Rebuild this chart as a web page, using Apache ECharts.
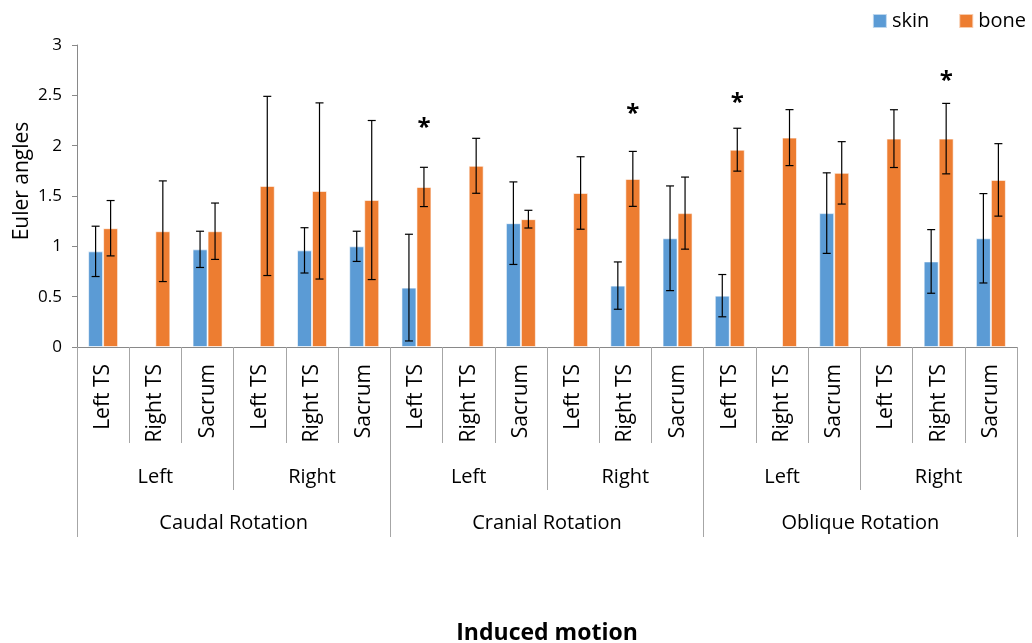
<!DOCTYPE html>
<html>
<head>
<meta charset="utf-8">
<script src="https://cdn.jsdelivr.net/npm/echarts@6/dist/echarts.min.js"></script>
<style>
  html, body { margin: 0; padding: 0; background: #fff; }
  #chart { width: 1032px; height: 643px; }
</style>
</head>
<body>
<div id="chart"></div>
<script>
// ---- data ----
const siteLabels = ['Left TS','Right TS','Sacrum','Left TS','Right TS','Sacrum',
                    'Left TS','Right TS','Sacrum','Left TS','Right TS','Sacrum',
                    'Left TS','Right TS','Sacrum','Left TS','Right TS','Sacrum'];
const sideLabels = ['Left','Right','Left','Right','Left','Right'];
const rotationLabels = ['Caudal Rotation','Cranial Rotation','Oblique Rotation'];
const yTicks = { min: 0, max: 3, interval: 0.5 };

const skinMean = [0.95, null, 0.97, null, 0.96, 1.00, 0.59, null, 1.23, null, 0.61, 1.08, 0.51, null, 1.33, null, 0.85, 1.08];
const skinSd   = [0.25, null, 0.18, null, 0.225, 0.15, 0.53, null, 0.41, null, 0.235, 0.52, 0.21, null, 0.40, null, 0.316, 0.444];
const boneMean = [1.18, 1.15, 1.15, 1.60, 1.55, 1.46, 1.59, 1.80, 1.27, 1.53, 1.67, 1.33, 1.96, 2.08, 1.73, 2.07, 2.07, 1.66];
const boneSd   = [0.275, 0.50, 0.28, 0.89, 0.875, 0.79, 0.195, 0.273, 0.088, 0.36, 0.273, 0.358, 0.213, 0.278, 0.31, 0.287, 0.35, 0.36];
const starLevel = [null, null, null, null, null, null, 2.2, null, null, null, 2.34, null, 2.45, null, null, null, 2.67, null];

// ---- chart ----
const FONT = '"Open Sans", "Noto Sans", sans-serif';
const BAR_W = 15;
const chart = echarts.init(document.getElementById('chart'), null, { renderer: 'canvas' });

function errData(mean, sd) {
  const out = [];
  mean.forEach((m, i) => { if (m != null && sd[i] != null) out.push([i, m, sd[i]]); });
  return out;
}
function errRender(dx) {
  return function (params, api) {
    const i = api.value(0), m = api.value(1), s = api.value(2);
    const top = api.coord([i, m + s]);
    const bot = api.coord([i, m - s]);
    const x = top[0] + dx;
    const cap = 4;
    const st = { stroke: '#000', lineWidth: 1.2 };
    return {
      type: 'group',
      children: [
        { type: 'line', shape: { x1: x, y1: top[1], x2: x, y2: bot[1] }, style: st },
        { type: 'line', shape: { x1: x - cap, y1: top[1], x2: x + cap, y2: top[1] }, style: st },
        { type: 'line', shape: { x1: x - cap, y1: bot[1], x2: x + cap, y2: bot[1] }, style: st }
      ]
    };
  };
}
const starData = [];
starLevel.forEach((v, i) => { if (v != null) starData.push([i, v]); });

const tickColor = '#a6a6a6';
const option = {
  animation: false,
  textStyle: { fontFamily: FONT },
  grid: { left: 77, right: 15, top: 45, bottom: 296, containLabel: false, outerBoundsMode: 'none' },
  legend: {
    right: 1, top: 6,
    itemWidth: 14, itemHeight: 14, itemGap: 29,
    icon: 'rect',
    textStyle: { fontFamily: FONT, fontSize: 20, color: '#000' },
    data: ['skin', 'bone']
  },
  xAxis: [
    {
      type: 'category', position: 'bottom', data: siteLabels,
      axisLine: { show: true, lineStyle: { color: '#898989', width: 1 } },
      axisTick: { show: true, interval: 0, length: 96, lineStyle: { color: tickColor } },
      axisLabel: { interval: 0, rotate: 90, margin: 17, fontSize: 21, color: '#000', fontFamily: FONT },
      name: 'Induced motion', nameLocation: 'middle', nameGap: 275, nameMoveOverlap: false,
      nameTextStyle: { fontSize: 23, fontWeight: 'bold', color: '#000', fontFamily: FONT }
    },
    {
      type: 'category', position: 'bottom', data: sideLabels,
      axisLine: { show: false },
      axisTick: { show: true, interval: 0, length: 143, lineStyle: { color: tickColor } },
      axisLabel: { interval: 0, margin: 120, fontSize: 20, color: '#000', fontFamily: FONT }
    },
    {
      type: 'category', position: 'bottom', data: rotationLabels,
      axisLine: { show: false },
      axisTick: { show: true, interval: 0, length: 190, lineStyle: { color: tickColor } },
      axisLabel: { interval: 0, margin: 166, fontSize: 20, color: '#000', fontFamily: FONT }
    }
  ],
  yAxis: {
    type: 'value', min: yTicks.min, max: yTicks.max, interval: yTicks.interval,
    axisLine: { show: true, lineStyle: { color: '#898989' } },
    axisTick: { show: true, length: 5, lineStyle: { color: '#898989' } },
    splitLine: { show: false },
    axisLabel: { fontSize: 17, margin: 15, color: '#000', fontFamily: FONT },
    name: 'Euler angles', nameLocation: 'middle', nameGap: 44, nameRotate: 90, nameMoveOverlap: false,
    nameTextStyle: { fontSize: 21, color: '#000', fontFamily: FONT, padding: [0, 0, 0, 30] }
  },
  series: [
    {
      name: 'skin', type: 'bar', data: skinMean, barWidth: BAR_W, barGap: '0%',
      itemStyle: { color: '#5B9BD5', borderColor: 'rgba(255,255,255,0.6)', borderWidth: 1 }
    },
    {
      name: 'bone', type: 'bar', data: boneMean, barWidth: BAR_W, barGap: '0%',
      itemStyle: { color: '#ED7D31', borderColor: 'rgba(255,255,255,0.6)', borderWidth: 1 }
    },
    {
      type: 'custom', name: 'skin-err', data: errData(skinMean, skinSd),
      renderItem: errRender(-BAR_W / 2), z: 5, silent: true,
      encode: { x: 0, y: 1 }
    },
    {
      type: 'custom', name: 'bone-err', data: errData(boneMean, boneSd),
      renderItem: errRender(BAR_W / 2), z: 5, silent: true,
      encode: { x: 0, y: 1 }
    },
    {
      type: 'custom', name: 'stars', data: starData, z: 6, silent: true,
      encode: { x: 0, y: 1 },
      renderItem: function (params, api) {
        const p = api.coord([api.value(0), api.value(1)]);
        return {
          type: 'text', x: p[0] + BAR_W / 2, y: p[1] + 3,
          style: { text: '*', fill: '#000', font: 'bold 24px ' + FONT, align: 'center', verticalAlign: 'middle' }
        };
      }
    }
  ]
};
chart.setOption(option);
</script>
</body>
</html>
